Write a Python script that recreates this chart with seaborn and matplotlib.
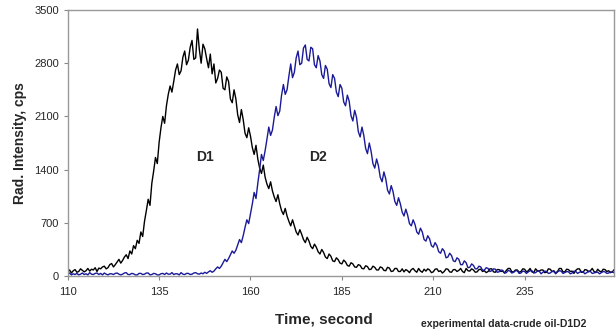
import numpy as np
import pandas as pd
import matplotlib
matplotlib.use("Agg")
import matplotlib.pyplot as plt
import seaborn as sns

# sample times, 0.5 s step
time_s = np.arange(110, 260, 0.5)

# D1 signal, counts per second
d1_cps = [
    55, 80, 40, 70, 85, 50, 60, 95, 75, 55,
    70, 100, 65, 90, 80, 110, 60, 105, 95, 120,
    130, 95, 110, 150, 165, 120, 150, 185, 220, 170,
    205, 250, 280, 230, 330, 290, 400, 360, 470, 430,
    580, 520, 720, 860, 1010, 930, 1220, 1380, 1560, 1480,
    1760, 1950, 2100, 2010, 2240, 2390, 2500, 2420, 2560, 2710,
    2790, 2650, 2700, 2880, 2960, 2780, 2840, 3010, 3100, 2850,
    2870, 3250, 2980, 2800, 3050, 2990, 2860, 2740, 2920, 2660,
    2790, 2540, 2600, 2710, 2680, 2470, 2450, 2620, 2560, 2330,
    2280, 2450, 2330, 2120, 2020, 2190, 2060, 1880, 1820, 1950,
    1840, 1690, 1600, 1720, 1540, 1420, 1350, 1460, 1300, 1210,
    1150, 1240, 1120, 1040, 980, 1070, 950, 860, 810, 890,
    790, 720, 660, 740, 660, 580, 540, 610, 550, 480,
    440, 510, 460, 390, 360, 420, 380, 320, 290, 350,
    310, 250, 230, 290, 260, 200, 190, 240, 215, 170,
    160, 210, 185, 140, 130, 175, 160, 120, 115, 150,
    140, 100, 95, 135, 125, 85, 90, 130, 115, 80,
    80, 120, 110, 75, 70, 115, 105, 60, 65, 100,
    100, 60, 60, 95, 55, 85, 70, 45, 85, 100,
    70, 50, 100, 65, 50, 90, 65, 95, 80, 45,
    55, 90, 95, 60, 70, 40, 60, 95, 90, 55,
    50, 85, 85, 60, 75, 100, 60, 45, 100, 70,
    65, 95, 80, 50, 55, 85, 90, 60, 70, 45,
    60, 95, 95, 55, 50, 85, 85, 60, 65, 40,
    75, 100, 100, 55, 55, 80, 80, 50, 60, 95,
    90, 55, 70, 100, 55, 45, 95, 70, 65, 80,
    80, 45, 50, 95, 90, 60, 70, 40, 60, 100,
    100, 55, 55, 90, 85, 60, 65, 35, 75, 95,
    95, 50, 50, 85, 80, 55, 70, 100, 60, 45,
    90, 65, 55, 90, 85, 60, 70, 45, 55, 85,
]

# D2 signal
d2_cps = [
    25, 40, 15, 30, 20, 35, 15, 25, 40, 20,
    30, 15, 45, 25, 20, 35, 40, 20, 35, 15,
    40, 25, 15, 30, 30, 20, 35, 40, 25, 15,
    25, 40, 45, 20, 20, 35, 30, 15, 15, 35,
    35, 20, 25, 40, 40, 15, 20, 35, 30, 15,
    15, 30, 35, 20, 40, 25, 25, 45, 20, 30,
    30, 15, 45, 25, 20, 35, 35, 20, 25, 40,
    45, 30, 25, 40, 30, 50, 35, 55, 70, 50,
    65, 95, 120, 100, 130, 175, 220, 190, 230, 280,
    330, 300, 340, 410, 480, 440, 530, 640, 740, 690,
    820, 950, 1100, 1020, 1220, 1400, 1600, 1520, 1650, 1800,
    1960, 1850, 1920, 2090, 2230, 2110, 2170, 2380, 2520, 2390,
    2450, 2630, 2790, 2610, 2680, 2870, 2960, 2780, 2800, 3000,
    3040, 2850, 2830, 3010, 2990, 2780, 2740, 2900, 2830, 2650,
    2600, 2770, 2720, 2530, 2480, 2650, 2600, 2420, 2360, 2520,
    2470, 2290, 2240, 2380, 2300, 2110, 2040, 2180, 2090, 1900,
    1830, 1960, 1850, 1680, 1610, 1750, 1640, 1480, 1420, 1540,
    1450, 1300, 1240, 1370, 1280, 1130, 1080, 1190, 1110, 980,
    930, 1030, 950, 840, 790, 880, 800, 690, 660, 740,
    680, 580, 550, 630, 580, 480, 460, 530, 490, 400,
    380, 440, 400, 320, 300, 360, 330, 240, 250, 300,
    270, 200, 190, 240, 220, 150, 150, 200, 175, 110,
    115, 160, 140, 95, 95, 130, 120, 75, 80, 110,
    100, 60, 70, 95, 90, 50, 55, 80, 75, 40,
    45, 75, 65, 40, 50, 70, 70, 35, 40, 65,
    60, 35, 55, 70, 70, 40, 45, 65, 65, 30,
    50, 65, 60, 35, 40, 60, 60, 30, 55, 70,
    65, 35, 45, 60, 55, 30, 40, 65, 60, 35,
    50, 60, 55, 30, 45, 65, 60, 35, 40, 55,
    50, 30, 45, 60, 55, 35, 40, 55, 50, 45,
]

x_ticks = [110, 135, 160, 185, 210, 235]
y_ticks = [0, 700, 1400, 2100, 2800, 3500]

assert len(d1_cps) == len(time_s) and len(d2_cps) == len(time_s)

df = pd.DataFrame({"time": time_s, "D1": d1_cps, "D2": d2_cps})

sns.set_style("white")
plt.rcParams["font.family"] = ["Liberation Sans", "DejaVu Sans"]

fig = plt.figure(figsize=(6.16, 3.33), dpi=100)
ax = fig.add_axes([0.110, 0.171, 0.887, 0.799])

sns.lineplot(data=df, x="time", y="D1", color="black", linewidth=1.0, ax=ax)
sns.lineplot(data=df, x="time", y="D2", color="#1a1a99", linewidth=1.0, ax=ax)

ax.set_xlim(110, 259.5)
ax.set_ylim(0, 3500)
ax.set_xticks(x_ticks)
ax.set_yticks(y_ticks)
ax.tick_params(axis="both", labelsize=8, length=3, width=0.8, color="#888888",
               direction="out", bottom=True, left=True)
ax.tick_params(axis="x", pad=5)
ax.set_xlabel("")
ax.set_ylabel("Rad. Intensity, cps", fontsize=10, fontweight="bold", labelpad=5)
for s in ax.spines.values():
    s.set_color("#999999")
    s.set_linewidth(1.0)

ax.text(147.5, 1560, "D1", fontsize=10, fontweight="bold", ha="center", va="center")
ax.text(178.5, 1560, "D2", fontsize=10, fontweight="bold", ha="center", va="center")

fig.text(0.525, 0.042, "Time, second", fontsize=11, fontweight="bold", ha="center", va="center")
fig.text(0.683, 0.026, "experimental data-crude oil-D1D2", fontsize=7.5, fontweight="bold",
         ha="left", va="center")

fig.savefig("out.png", dpi=100)
